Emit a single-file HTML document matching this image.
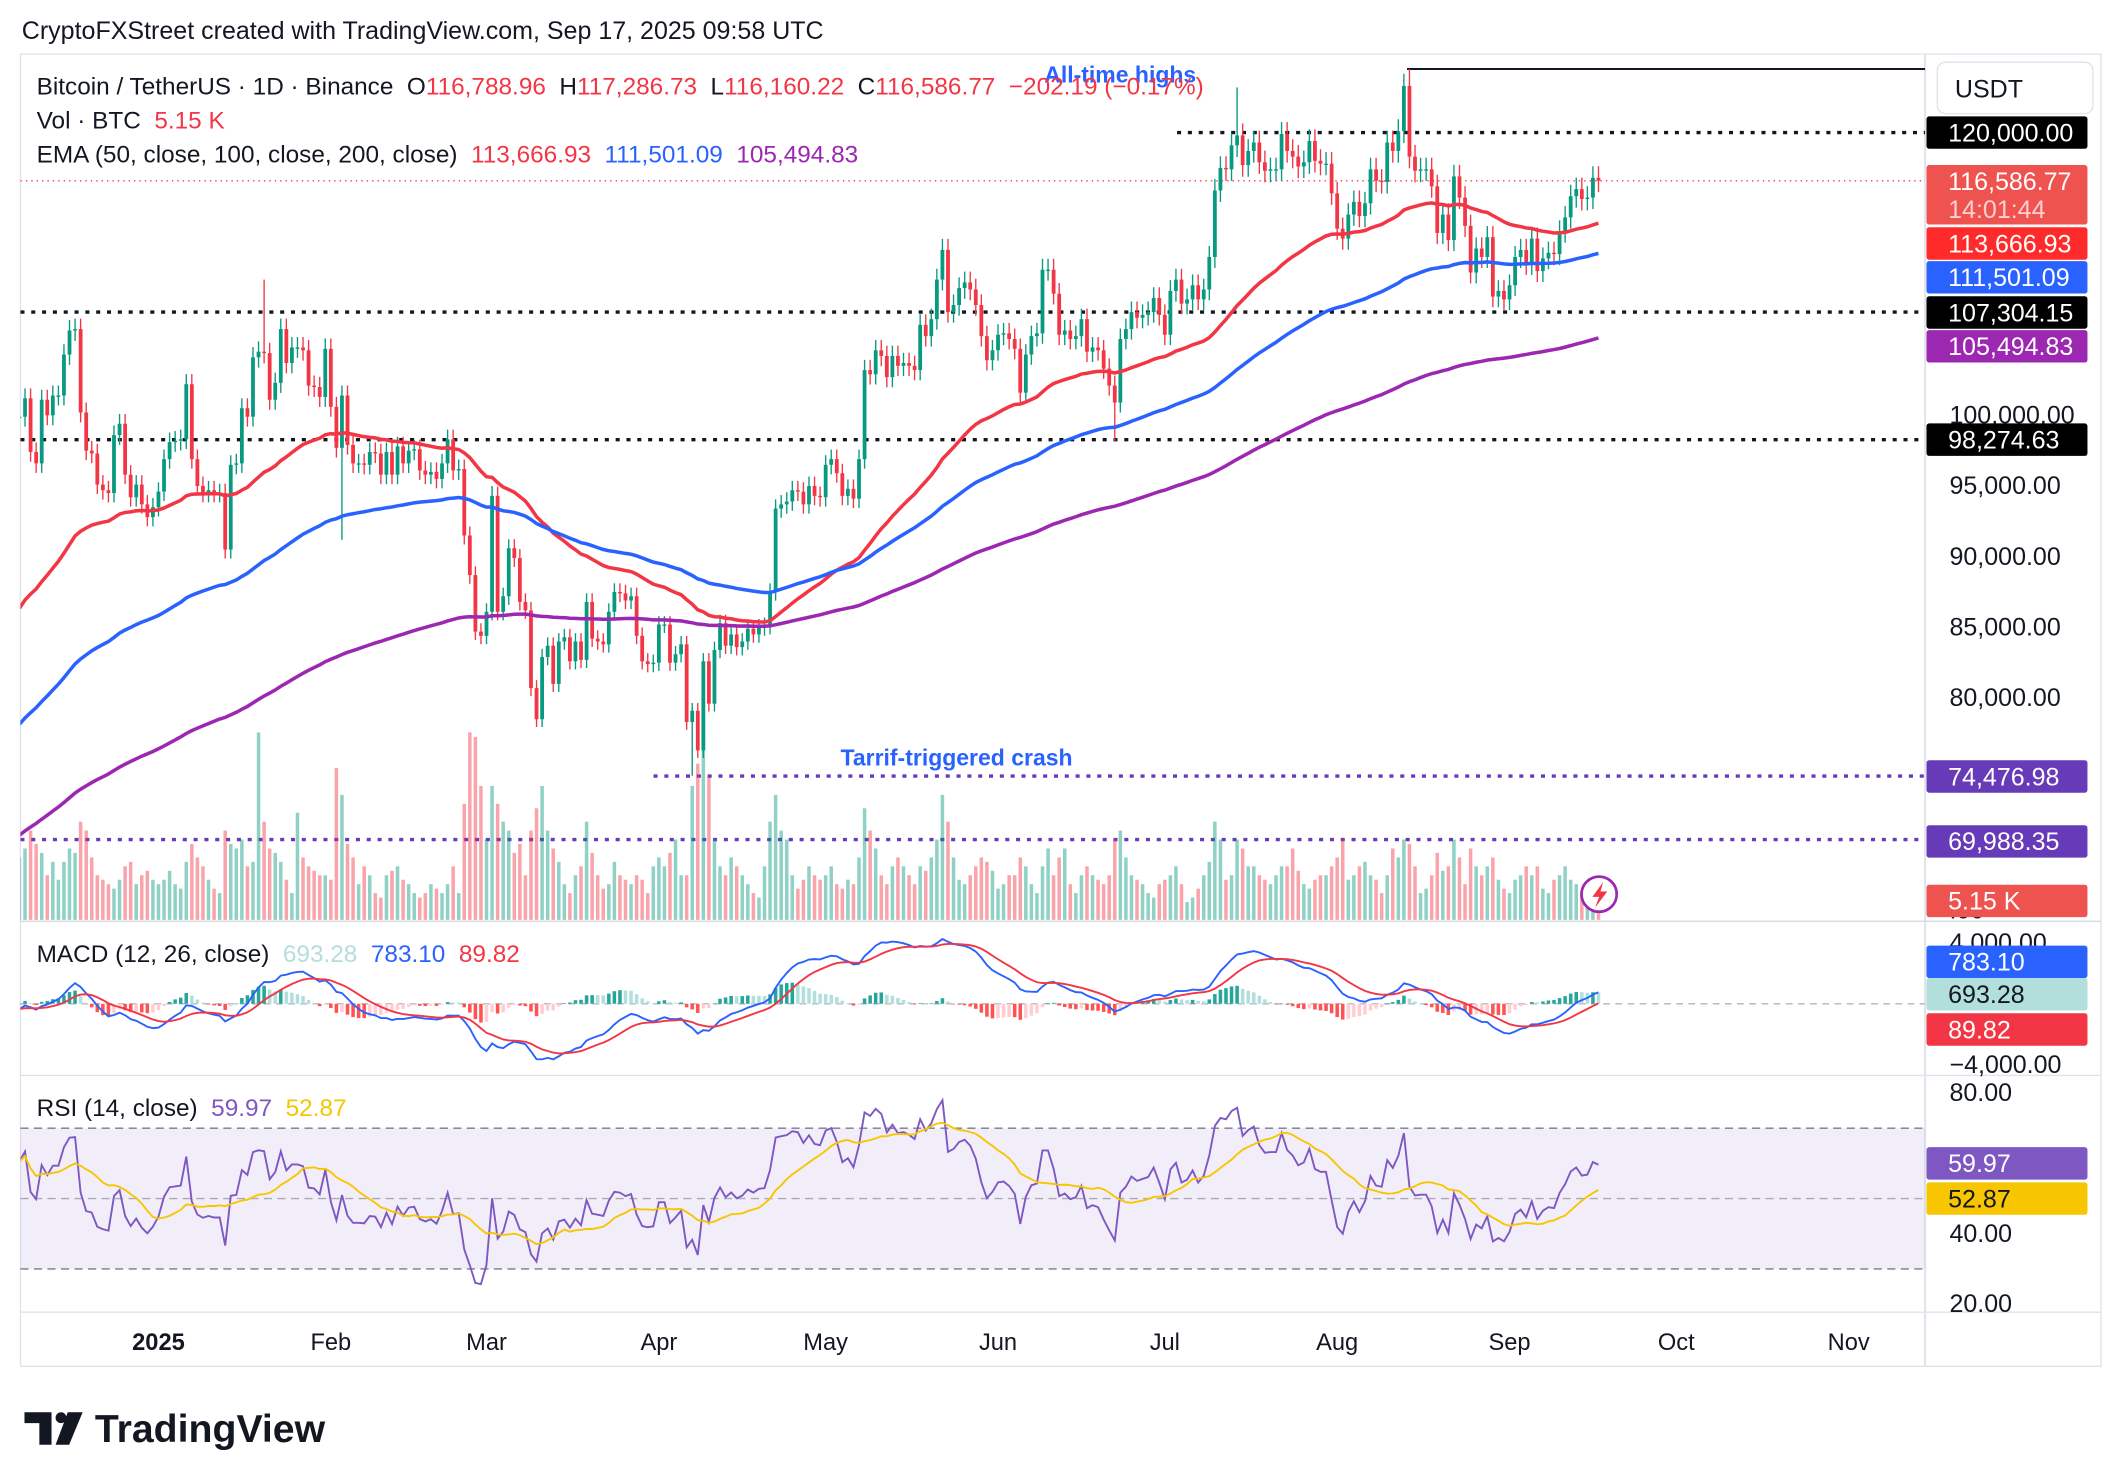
<!DOCTYPE html>
<html><head><meta charset="utf-8"><style>
html,body{margin:0;padding:0;background:#fff;}
svg{display:block;font-family:"Liberation Sans",sans-serif;}
.pre{white-space:pre;}
</style></head><body>
<svg id="chart" width="2116" height="1484" viewBox="0 0 1564 1097" xmlns="http://www.w3.org/2000/svg">
<rect x="0" y="0" width="1564" height="1097" fill="#fff"/>
<text x="16" y="29" font-size="18.5" fill="#131722">CryptoFXStreet created with TradingView.com, Sep 17, 2025 09:58 UTC</text>
<rect x="15" y="40" width="1538" height="970" fill="none" stroke="#e0e3eb" stroke-width="1"/>
<line x1="1423" y1="40" x2="1423" y2="1010" stroke="#e0e3eb" stroke-width="1.5"/>
<line x1="15" y1="681" x2="1553" y2="681" stroke="#d1d4dc"/>
<line x1="15" y1="795" x2="1553" y2="795" stroke="#e0e3eb"/>
<line x1="15" y1="970" x2="1553" y2="970" stroke="#e0e3eb"/>
<defs><clipPath id="clip"><rect x="15" y="40" width="1408" height="930"/></clipPath></defs>
<g id="rsiBand">
<rect x="15" y="834" width="1408" height="104" fill="#7e57c2" fill-opacity="0.1"/>
<line x1="15" y1="834" x2="1423" y2="834" stroke="#787b86" stroke-dasharray="6,4"/>
<line x1="15" y1="886" x2="1423" y2="886" stroke="#787b86" stroke-dasharray="6,4" stroke-opacity="0.6"/>
<line x1="15" y1="938" x2="1423" y2="938" stroke="#787b86" stroke-dasharray="6,4"/>
</g>
<line x1="15" y1="742" x2="1423" y2="742" stroke="#b2b5be" stroke-dasharray="5,4"/>
<g id="plot" clip-path="url(#clip)"></g>
<g id="axis"></g>
<text x="828" y="61" font-size="17" font-weight="bold" fill="#2962ff" text-anchor="middle">All-time highs</text>
<text x="707" y="566" font-size="17" font-weight="bold" fill="#2962ff" text-anchor="middle">Tarrif-triggered crash</text>
<g font-size="18" class="pre">
<text x="27" y="70" class="pre"><tspan fill="#131722">Bitcoin / TetherUS · 1D · Binance  O</tspan><tspan fill="#f23645">116,788.96</tspan><tspan fill="#131722">  H</tspan><tspan fill="#f23645">117,286.73</tspan><tspan fill="#131722">  L</tspan><tspan fill="#f23645">116,160.22</tspan><tspan fill="#131722">  C</tspan><tspan fill="#f23645">116,586.77  −202.19 (−0.17%)</tspan></text>
<text x="27" y="95" class="pre"><tspan fill="#131722">Vol · BTC  </tspan><tspan fill="#f23645">5.15 K</tspan></text>
<text x="27" y="120" class="pre"><tspan fill="#131722">EMA (50, close, 100, close, 200, close)  </tspan><tspan fill="#f23645">113,666.93</tspan><tspan fill="#2962ff">  111,501.09</tspan><tspan fill="#9c27b0">  105,494.83</tspan></text>
<text x="27" y="711" class="pre"><tspan fill="#131722">MACD (12, 26, close)  </tspan><tspan fill="#b2dfdb">693.28</tspan><tspan fill="#2962ff">  783.10</tspan><tspan fill="#f23645">  89.82</tspan></text>
<text x="27" y="825" class="pre"><tspan fill="#131722">RSI (14, close)  </tspan><tspan fill="#7e57c2">59.97</tspan><tspan fill="#f7c600">  52.87</tspan></text>
</g>
<g><circle cx="1182" cy="661" r="13" fill="#fff" stroke="#9c27b0" stroke-width="2"/><path d="M1185 652 L1177 663 L1182 663 L1179 671 L1188 659 L1183 659 Z" fill="#f23645"/></g>
<g><path d="M18 1044 h20 v24 h-9 v-16 h-11z" fill="#131722"/><circle cx="45" cy="1048" r="4" fill="#131722"/><path d="M50 1044 h11 l-10 24 h-10z" fill="#131722"/><text x="70" y="1066" font-size="29" font-weight="bold" fill="#131722">TradingView</text></g>
</svg>
<script>
const closes=[99.9,101.2,97.4,96.6,101.1,100.0,101.4,101.4,104.3,106.0,106.1,100.2,97.5,97.3,95.1,94.7,94.5,98.6,99.4,95.8,94.2,95.1,93.7,92.8,93.5,
94.6,96.9,98.1,98.2,98.3,102.2,96.9,95.0,94.5,94.7,94.5,94.5,90.5,96.5,96.6,100.5,99.9,104.1,104.5,104.4,101.1,102.3,106.1,103.7,104.8,104.8,104.6,102.1,102.0,101.3,104.7,
100.6,97.7,101.4,97.9,96.6,96.6,96.5,97.4,97.3,95.8,97.4,95.8,97.8,96.6,97.5,97.6,96.1,95.8,96.0,95.5,96.6,98.3,96.1,96.2,91.5,88.7,84.7,84.4,
86.1,94.3,86.1,87.2,90.6,89.9,86.8,86.2,80.7,78.5,82.9,83.7,81.0,84.0,84.3,82.6,84.0,82.7,86.8,84.2,84.0,83.8,86.1,87.5,87.4,86.9,87.2,84.4,82.6,82.4,82.5,
85.2,85.2,82.5,83.1,83.8,78.3,79.1,76.3,82.6,79.6,83.4,85.3,83.7,84.5,83.6,84.0,84.9,84.5,85.0,85.1,87.5,93.4,93.7,93.9,94.7,94.6,93.7,95.0,94.3,94.2,
96.5,96.9,95.9,94.3,94.8,94.1,96.9,103.2,102.9,104.6,104.2,102.7,104.2,103.5,103.7,103.5,103.2,106.4,105.6,106.8,109.6,111.7,107.3,107.8,109.0,109.4,108.9,107.8,105.6,103.9,104.6,
105.7,105.8,105.4,104.7,101.6,104.3,105.6,105.8,110.3,110.3,108.6,105.7,106.0,105.4,105.6,106.8,104.5,104.8,104.6,103.3,102.1,100.9,105.4,106.1,107.3,106.9,107.1,107.3,108.3,107.1,
105.7,108.8,109.6,107.9,108.2,109.2,108.2,108.9,111.2,115.9,117.5,117.4,119.1,119.8,117.7,118.7,119.3,117.9,117.3,117.4,117.4,119.9,118.7,118.3,117.6,117.9,119.4,118.0,117.8,117.8,115.7,
113.2,112.5,114.2,115.1,114.1,115.0,117.4,116.6,116.5,119.3,118.7,120.1,123.3,118.3,117.3,117.4,117.4,116.2,112.9,114.2,112.4,116.9,115.4,113.4,110.1,111.8,111.2,112.6,108.4,108.8,108.2,
109.2,111.2,111.7,110.7,112.5,110.2,111.1,111.5,111.4,113.0,114.0,115.5,116.0,115.3,115.4,116.8,116.6];
const volumes=[14,16,20,17,15,10,13,9,13,16,15,22,20,14,10,9,8,7,9,12,13,8,10,11,9,
8,9,11,8,7,13,17,14,12,9,7,6,20,17,16,18,12,13,42,22,16,15,13,9,6,24,14,12,11,10,10,
9,34,28,17,14,8,12,10,6,5,10,11,12,9,8,6,5,6,8,7,6,8,12,6,26,42,41,30,
18,30,26,22,20,15,17,10,20,25,30,20,16,13,8,6,10,12,22,15,10,7,8,13,10,9,8,10,9,6,12,
14,12,15,18,10,10,30,35,45,32,18,12,10,14,12,10,8,6,5,12,22,28,20,18,10,7,9,12,10,9,
10,12,8,7,9,8,14,25,20,16,10,8,12,14,12,10,8,12,11,14,18,28,22,14,9,8,10,12,14,13,11,
7,8,10,10,14,12,8,6,12,16,10,14,16,8,6,10,12,10,9,8,10,18,20,14,10,9,8,6,5,8,
9,10,12,8,4,5,7,10,13,22,18,9,10,18,16,12,12,10,9,8,10,12,12,16,11,8,7,9,10,10,12,
14,18,9,10,12,13,10,9,6,10,16,14,18,17,12,6,7,10,15,11,12,18,14,8,16,12,10,12,14,9,7,
6,9,10,12,10,12,7,6,9,10,12,9,8,6,5,8,5];
const extremeIdx=[44,58,85,121,197,219,250];
const extremeVal=[109.6,91.2,95.0,74.5,98.2,123.2,124.5];
const emaSeeds=[85.8,77.7,70.0];
const rsiSeedGain=800, rsiSeedLoss=520;
const monthLabels=["2025","Feb","Mar","Apr","May","Jun","Jul","Aug","Sep","Oct","Nov"];
const monthDayIdx=[25,56,84,115,145,176,206,237,268,298,329];
const priceTicks=[100000,95000,90000,85000,80000];
const NS="http://www.w3.org/2000/svg";
const X0=14.3, DX=4.11;
const xs=i=>X0+i*DX;
const yP=p=>307-(p-100000)*0.01045;
const yV=v=>680-v*3.3;
const yM=m=>742-m*0.01125;
const yR=r=>886-(r-50)*2.6;
const plot=document.getElementById('plot');
function mk(tag,attrs,parent){const e=document.createElementNS(NS,tag);for(const k in attrs)e.setAttribute(k,attrs[k]);(parent||plot).appendChild(e);return e;}
const C=closes.map(c=>c*1000);
function hline(x1,x2,y,color,dash,w,name){const l=mk('line',{x1:x1,x2:x2,y1:y,y2:y,stroke:color,'stroke-dasharray':dash,'stroke-width':w});

}
hline(870,1423,yP(120000),'#131722','3,5',2.5,'level-120000');
hline(15,1423,yP(107304.15),'#131722','3,5',2.5,'level-107304');
hline(15,1423,yP(98274.63),'#131722','3,5',2.5,'level-98274');
hline(483,1423,yP(74476.98),'#673ab7','3,5',2.5,'level-74477');
hline(15,1423,yP(69988.35),'#673ab7','3,5',2.5,'level-69988');
hline(1040,1423,yP(124500),'#131722','',1.5,'ath-line');
hline(15,1423,yP(116586.77),'#f23645','1,3',1,'current-price-line');
C.forEach((c,i)=>{const o=i?C[i-1]:c;const up=c>=o;const y=yV(volumes[i]);
const r=mk('rect',{x:xs(i)-1.3,y:y,width:2.6,height:680-y,fill:up?'#089981':'#f23645','fill-opacity':0.45});

});
C.forEach((c,i)=>{const o=i?C[i-1]:c;const up=c>=o;const col=up?'#089981':'#f23645';
let h=Math.max(o,c)*1.007,l=Math.min(o,c)*0.993;const k=extremeIdx.indexOf(i);
if(k>=0){const v=extremeVal[k]*1000;if(v>Math.max(o,c))h=v;else l=v;}
const g=mk('g',{});


mk('line',{x1:xs(i),x2:xs(i),y1:yP(h),y2:yP(l),stroke:col,'stroke-width':1},g);
const t=yP(Math.max(o,c)),b=yP(Math.min(o,c));
mk('rect',{x:xs(i)-1.4,y:t,width:2.8,height:Math.max(1,b-t),fill:col},g);});
function ema(arr,n,seed){const a=2/(n+1);let e=seed;return arr.map(v=>(e=e+a*(v-e)));}
const emaDefs=[[50,'#f23645','ema-50'],[100,'#2962ff','ema-100'],[200,'#9c27b0','ema-200']];
emaDefs.forEach((d,j)=>{const e=ema(C,d[0],emaSeeds[j]*1000);
const p=mk('path',{d:e.map((v,i)=>(i?'L':'M')+xs(i).toFixed(1)+' '+yP(v).toFixed(1)).join(''),fill:'none',stroke:d[1],'stroke-width':2.6});

});
const e12=ema(C,12,C[0]-1500),e26=ema(C,26,C[0]-1000);
const macd=e12.map((v,i)=>v-e26[i]);let s=macd[0];const sig=macd.map(v=>(s=s+(2/10)*(v-s)));
macd.forEach((m,i)=>{const hv=m-sig[i];const pv=i?macd[i-1]-sig[i-1]:hv;
const col=hv>=0?(hv>=pv?'#26a69a':'#b2dfdb'):(hv<pv?'#ff5252':'#ffcdd2');
const y1=Math.min(yM(hv),742),y2=Math.max(yM(hv),742);
const r=mk('rect',{x:xs(i)-1.3,y:y1,width:2.6,height:Math.max(0.5,y2-y1),fill:col});

});
const pm=mk('path',{d:macd.map((v,i)=>(i?'L':'M')+xs(i).toFixed(1)+' '+yM(v).toFixed(1)).join(''),fill:'none',stroke:'#2962ff','stroke-width':1.4});


const ps=mk('path',{d:sig.map((v,i)=>(i?'L':'M')+xs(i).toFixed(1)+' '+yM(v).toFixed(1)).join(''),fill:'none',stroke:'#f23645','stroke-width':1.4});


let ag=rsiSeedGain,al=rsiSeedLoss;const rsi=[];
C.forEach((c,i)=>{if(i){const d=c-C[i-1];ag=(ag*13+Math.max(d,0))/14;al=(al*13+Math.max(-d,0))/14;}
rsi.push(100-100/(1+ag/al));});
const rsma=rsi.map((v,i)=>{const a=rsi.slice(Math.max(0,i-13),i+1);return a.reduce((x,y)=>x+y,0)/a.length;});
const pr=mk('path',{d:rsi.map((v,i)=>(i?'L':'M')+xs(i).toFixed(1)+' '+yR(v).toFixed(1)).join(''),fill:'none',stroke:'#7e57c2','stroke-width':1.4});


const pma=mk('path',{d:rsma.map((v,i)=>(i?'L':'M')+xs(i).toFixed(1)+' '+yR(v).toFixed(1)).join(''),fill:'none',stroke:'#f7c600','stroke-width':1.4});


const ax=document.getElementById('axis');
monthLabels.forEach((m,i)=>{const t=mk('text',{x:xs(monthDayIdx[i]),y:998,'font-size':17.5,fill:'#131722','text-anchor':'middle','font-weight':i===0?'bold':'normal'},ax);t.textContent=m;

});
function plain(txt,y){const t=mk('text',{x:1441,y:y+6,'font-size':18.5,fill:'#131722'},ax);t.textContent=txt;

}
priceTicks.forEach(p=>plain(p.toLocaleString('en-US')+'.00',yP(p)));
plain('4,000.00',697);plain('−4,000.00',787);plain('80.00',808);plain('40.00',912);plain('20.00',964);plain('.00',673);
const ub=mk('rect',{x:1432,y:46,width:115,height:38,rx:6,fill:'#fff',stroke:'#e0e3eb'},ax);


const t0=mk('text',{x:1445,y:72,'font-size':18.5,fill:'#131722'},ax);t0.textContent='USDT';


function box(txt,y,bg,fg,h,txt2){const g=mk('g',{},ax);


const hh=h||24;mk('rect',{x:1424,y:y-12,width:119,height:hh,fill:bg,rx:2},g);
const t=mk('text',{x:1440,y:y+6.5,'font-size':18.5,fill:fg},g);t.textContent=txt;
if(txt2){const t2=mk('text',{x:1440,y:y+27,'font-size':18.5,fill:'#fbd0d0'},g);t2.textContent=txt2;}}
box('120,000.00',98,'#000','#fff');
box('116,586.77',134,'#ef5350','#fff',44,'14:01:44');
box('113,666.93',180,'#ff2b2b','#fff');
box('111,501.09',205,'#2962ff','#fff');
box('107,304.15',231,'#000','#fff');
box('105,494.83',256,'#9c27b0','#fff');
box('98,274.63',325,'#000','#fff');
box('74,476.98',574,'#673ab7','#fff');
box('69,988.35',622,'#673ab7','#fff');
box('5.15 K',666,'#ef5350','#fff');
box('783.10',711,'#2962ff','#fff');
box('693.28',735,'#b2dfdb','#131722');
box('89.82',761,'#f23645','#fff');
box('59.97',860,'#7e57c2','#fff');
box('52.87',886,'#f7c600','#131722');
</script>
</body></html>
